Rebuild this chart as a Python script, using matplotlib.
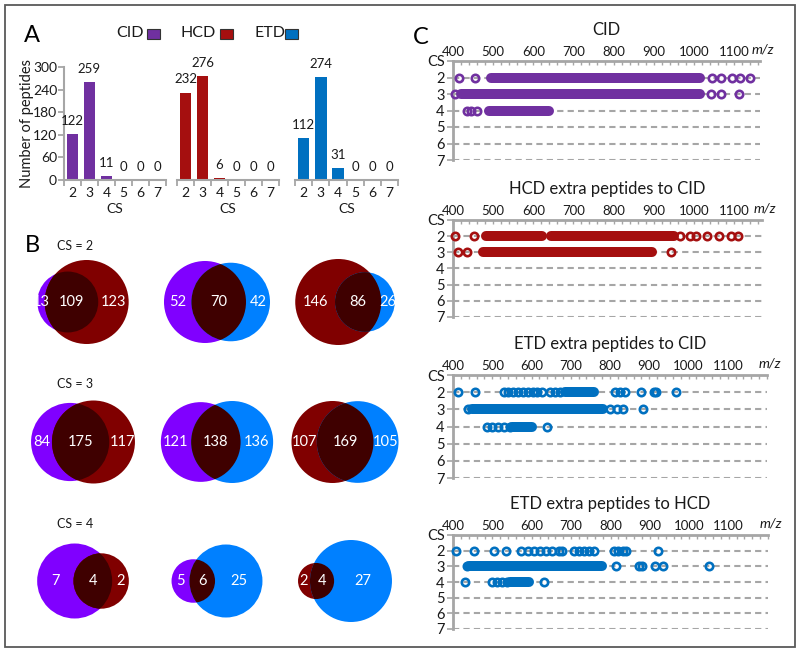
import numpy as np
import matplotlib
matplotlib.use('Agg')
import matplotlib.pyplot as plt
from matplotlib.patches import Circle, Rectangle
from matplotlib.ticker import MultipleLocator

plt.rcParams['font.family'] = ['Lato', 'DejaVu Sans']

# ------------------------------------------------------------------ data
charge_states = [2, 3, 4, 5, 6, 7]
cid_counts = [122, 259, 11, 0, 0, 0]
hcd_counts = [232, 276, 6, 0, 0, 0]
etd_counts = [112, 274, 31, 0, 0, 0]
methods = ['CID', 'HCD', 'ETD']

# Venn diagrams: pairs and (left-only, both, right-only)
venn_pairs = [('CID', 'HCD'), ('CID', 'ETD'), ('HCD', 'ETD')]
venn_cs = [2, 3, 4]
venn_cs2 = [(13, 109, 123), (52, 70, 42), (146, 86, 26)]
venn_cs3 = [(84, 175, 117), (121, 138, 136), (107, 169, 105)]
venn_cs4 = [(7, 4, 2), (5, 6, 25), (2, 4, 27)]

# Panel C: m/z of resolved single peptides and dense (unresolved) runs
cid_cs2_pts = [416, 455, 1046, 1067, 1096, 1116, 1141]
cid_cs2_dense = [(494, 1015)]
cid_cs3_pts = [405, 1042, 1067, 1112]
cid_cs3_dense = [(420, 1015)]
cid_cs4_pts = [434, 446, 459]
cid_cs4_dense = [(489, 639)]

hcd_cs2_pts = [404, 453, 965, 990, 1005, 1033, 1062, 1093, 1110]
hcd_cs2_dense = [(483, 621), (644, 950)]
hcd_cs3_pts = [413, 434, 943]
hcd_cs3_dense = [(476, 896)]

etdc_cs2_pts = [413, 456, 530, 540, 552, 565, 578, 590, 603, 615, 628, 648,
                660, 672, 812, 825, 838, 878, 912, 918, 967]
etdc_cs2_dense = [(685, 760)]
etdc_cs3_pts = [438, 800, 818, 833, 883]
etdc_cs3_dense = [(448, 782)]
etdc_cs4_pts = [487, 500, 515, 530, 545, 639]
etdc_cs4_dense = [(550, 600)]

etdh_cs2_pts = [408, 453, 504, 534, 572, 590, 606, 622, 637, 652, 668, 678,
                708, 720, 732, 745, 757, 808, 820, 832, 840, 920]
etdh_cs2_dense = []
etdh_cs3_pts = [436, 815, 872, 880, 913, 934, 1049]
etdh_cs3_dense = [(440, 778)]
etdh_cs4_pts = [430, 498, 512, 525, 538, 631]
etdh_cs4_dense = [(545, 592)]

mz_major_ticks = [400, 500, 600, 700, 800, 900, 1000, 1100]
cs_rows = [2, 3, 4, 5, 6, 7]

# ------------------------------------------------------------------ style
W, H = 800, 652
GRAY = '#A6A6A6'
TXT = '#1a1a1a'
bar_colors = {'CID': '#7030A0', 'HCD': '#A50F0F', 'ETD': '#0070C0'}
venn_colors = {'CID': '#8000FF', 'HCD': '#800000', 'ETD': '#0080FF'}
OVERLAP = '#3F0000'

fig = plt.figure(figsize=(W / 100, H / 100), dpi=100)


def px_axes(x0, y0, x1, y1):
    return fig.add_axes([x0 / W, 1 - y1 / H, (x1 - x0) / W, (y1 - y0) / H])


ov = fig.add_axes([0, 0, 1, 1])
ov.set_xlim(0, W)
ov.set_ylim(H, 0)
ov.axis('off')

# frame
ov.add_patch(Rectangle((5, 5), 790, 642, fill=False, ec='#595959', lw=1.3))

# panel letters
for letter, (lx, ly) in zip('ABC', [(32, 36), (32, 246), (421, 37)]):
    ov.text(lx, ly, letter, fontsize=17, ha='center', va='center', color='black')

# ------------------------------------------------------------------ panel A
legend_pos = [(130, 147), (198, 220), (270, 285)]
for m, (tx, sx) in zip(methods, legend_pos):
    ov.text(tx, 33, m, fontsize=11.5, ha='center', va='center', color=TXT)
    ov.add_patch(Rectangle((sx, 28.5), 13, 10, fc=bar_colors[m], ec='#333333', lw=0.8))

ov.text(27, 123, 'Number of peptides', rotation=90, fontsize=10.5, ha='center',
        va='center', color=TXT)

bar_boxes = [(64, 67, 166, 180), (177, 67, 279, 180), (295, 67, 398, 180)]
for i, (m, counts, box) in enumerate(zip(methods, [cid_counts, hcd_counts, etd_counts], bar_boxes)):
    ax = px_axes(*box)
    ax.patch.set_alpha(0)
    x = np.arange(len(charge_states))
    ax.bar(x, counts, width=0.68, color=bar_colors[m])
    ax.set_xlim(-0.5, len(charge_states) - 0.5)
    ax.set_ylim(0, 300)
    for xi, v in zip(x, counts):
        ax.annotate(str(v), (xi, v), xytext=(0, 9.5), textcoords='offset points',
                    ha='center', va='center', fontsize=9.5, color=TXT, annotation_clip=False)
    ax.set_xticks(x)
    ax.set_xticklabels([str(c) for c in charge_states], fontsize=10, color=TXT)
    ax.set_xticks(np.arange(len(charge_states) + 1) - 0.5, minor=True)
    ax.tick_params(axis='x', which='major', length=0, pad=5)
    ax.tick_params(axis='x', which='minor', length=4, width=1.3, color=GRAY, direction='out')
    for s in ['top', 'right']:
        ax.spines[s].set_visible(False)
    ax.spines['bottom'].set_color(GRAY)
    ax.spines['bottom'].set_linewidth(1.5)
    if i == 0:
        ax.spines['left'].set_color(GRAY)
        ax.spines['left'].set_linewidth(1.5)
        ax.set_yticks([0, 60, 120, 180, 240, 300])
        ax.tick_params(axis='y', length=4, width=1.3, color=GRAY, labelsize=10,
                       labelcolor=TXT, pad=1)
    else:
        ax.spines['left'].set_visible(False)
        ax.set_yticks([])
    ax.text(0.5, -29 / 113, 'CS', transform=ax.transAxes, ha='center', va='center',
            fontsize=10, color=TXT)

# ------------------------------------------------------------------ panel B (Venn)
col_x = [83, 217, 345]
row_y = [302, 442, 581]
label_y = [246, 384, 524]
big_radius = [[42, 41, 43], [41.5, 41, 41], [37.5, 36.5, 41]]


def lens_area(r1, r2, d):
    if d >= r1 + r2:
        return 0.0
    if d <= abs(r1 - r2):
        return np.pi * min(r1, r2) ** 2
    a1 = r1 ** 2 * np.arccos((d ** 2 + r1 ** 2 - r2 ** 2) / (2 * d * r1))
    a2 = r2 ** 2 * np.arccos((d ** 2 + r2 ** 2 - r1 ** 2) / (2 * d * r2))
    a3 = 0.5 * np.sqrt((-d + r1 + r2) * (d + r1 - r2) * (d - r1 + r2) * (d + r1 + r2))
    return a1 + a2 - a3


def solve_d(r1, r2, target):
    lo, hi = abs(r1 - r2), r1 + r2
    for _ in range(80):
        mid = 0.5 * (lo + hi)
        if lens_area(r1, r2, mid) > target:
            lo = mid
        else:
            hi = mid
    return 0.5 * (lo + hi)


for r, (cs, vrow) in enumerate(zip(venn_cs, [venn_cs2, venn_cs3, venn_cs4])):
    ov.text(57, label_y[r], 'CS = %d' % cs, fontsize=9, ha='left', va='center', color=TXT)
    for c, ((ma, mb), (a_only, both, b_only)) in enumerate(zip(venn_pairs, vrow)):
        na, nb = a_only + both, both + b_only
        s = big_radius[r][c] / np.sqrt(max(na, nb))
        ra, rb = s * np.sqrt(na), s * np.sqrt(nb)
        d = solve_d(ra, rb, both * np.pi * s ** 2)
        left = -ra
        right = d + rb
        off = col_x[c] - 0.5 * (left + right)
        xa, xb = off, off + d
        yc = row_y[r]
        ca = Circle((xa, yc), ra, fc=venn_colors[ma], ec='none')
        cb = Circle((xb, yc), rb, fc=venn_colors[mb], ec='none')
        ov.add_patch(ca)
        ov.add_patch(cb)
        co = Circle((xb, yc), rb, fc=OVERLAP, ec='none')
        ov.add_patch(co)
        co.set_clip_path(ca)
        xl = 0.5 * ((xa - ra) + (xb - rb))
        xm = 0.5 * ((xb - rb) + (xa + ra))
        xr = 0.5 * ((xa + ra) + (xb + rb))
        for xt, val in zip([xl, xm, xr], [a_only, both, b_only]):
            ov.text(xt, yc, str(val), color='white', fontsize=10.5, ha='center', va='center')

# ------------------------------------------------------------------ panel C
panels = [
    ('CID', bar_colors['CID'], (453, 61, 760, 160), 1165,
     [(cid_cs2_pts, cid_cs2_dense, 2), (cid_cs3_pts, cid_cs3_dense, 3), (cid_cs4_pts, cid_cs4_dense, 4)]),
    ('HCD extra peptides to CID', bar_colors['HCD'], (453, 220, 762, 317), 1170,
     [(hcd_cs2_pts, hcd_cs2_dense, 2), (hcd_cs3_pts, hcd_cs3_dense, 3)]),
    ('ETD extra peptides to CID', bar_colors['ETD'], (453, 375, 767, 478), 1200,
     [(etdc_cs2_pts, etdc_cs2_dense, 2), (etdc_cs3_pts, etdc_cs3_dense, 3), (etdc_cs4_pts, etdc_cs4_dense, 4)]),
    ('ETD extra peptides to HCD', bar_colors['ETD'], (453, 535, 768, 629), 1200,
     [(etdh_cs2_pts, etdh_cs2_dense, 2), (etdh_cs3_pts, etdh_cs3_dense, 3), (etdh_cs4_pts, etdh_cs4_dense, 4)]),
]

MS = 5.3
MEW = 1.9
for title, col, box, xmax, series in panels:
    ax = px_axes(*box)
    ax.patch.set_alpha(0)
    ax.set_xlim(400, xmax)
    ax.set_ylim(7, 1)
    for cs in cs_rows:
        ax.axhline(cs, color=GRAY, lw=1.5, ls=(0, (3, 2.0)), zorder=1)
    for pts, dense, cs in series:
        for a, b in dense:
            ax.plot([a, b], [cs, cs], color=col, lw=MS + MEW, solid_capstyle='round', zorder=3)
        ax.plot(pts, [cs] * len(pts), 'o', ms=MS, mfc='none', mec=col, mew=MEW, zorder=4,
                clip_on=False)
    ax.xaxis.tick_top()
    ax.set_xticks(mz_major_ticks)
    ax.xaxis.set_minor_locator(MultipleLocator(20))
    ax.tick_params(axis='x', which='both', direction='in', length=3, width=1, color=GRAY,
                   top=True, bottom=False, labelsize=9.5, labelcolor=TXT, pad=2)
    ax.set_yticks([1] + cs_rows)
    ax.set_yticklabels(['CS'] + [str(c) for c in cs_rows])
    ax.tick_params(axis='y', direction='out', length=4, width=1.2, color=GRAY,
                   labelsize=10.5, labelcolor=TXT, pad=2)
    for s in ['right', 'bottom']:
        ax.spines[s].set_visible(False)
    for s in ['top', 'left']:
        ax.spines[s].set_color(GRAY)
        ax.spines[s].set_linewidth(2)
    ax.annotate('m/z', xy=(1, 1), xycoords='axes fraction', xytext=(2, 8.5),
                textcoords='offset points', ha='center', va='center', fontsize=10,
                style='italic', color=TXT)
    ax.annotate(title, xy=(0.5, 1), xycoords='axes fraction', xytext=(0, 22),
                textcoords='offset points', ha='center', va='center', fontsize=12, color=TXT)

fig.savefig('out.png', dpi=100)
